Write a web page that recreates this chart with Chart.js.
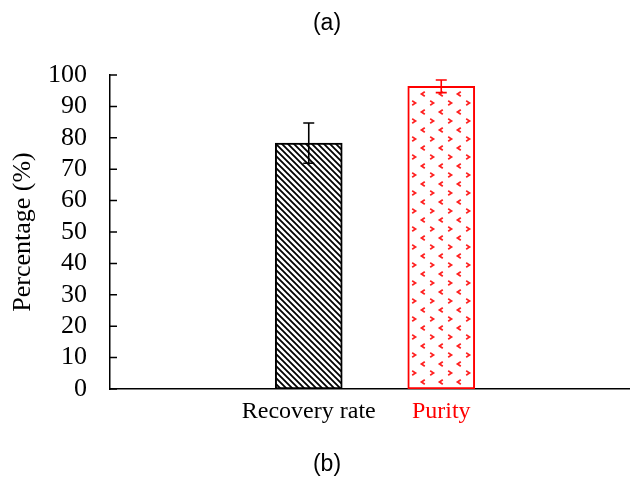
<!DOCTYPE html>
<html>
<head>
<meta charset="utf-8">
<script src="https://cdn.jsdelivr.net/npm/chart.js@4.4.0/dist/chart.umd.min.js"></script>
<style>
  html, body { margin: 0; padding: 0; background: #fff; overflow: hidden; width: 630px; height: 480px; }
  canvas { display: block; }
</style>
</head>
<body>
<!-- the plot runs a little past the right edge of the window, as in the original -->
<canvas id="chart" width="640" height="480"></canvas>
<script>
// data (empty slots left and right of the two bars)
const categories = ['', 'Recovery rate', 'Purity', ''];
const values = [null, 78.3, 96.4, null];
const errors = [0, 6.4, 2.0, 0];
const labelColors = ['#000', '#000', '#ff0000', '#000'];
const yTicks = [0, 10, 20, 30, 40, 50, 60, 70, 80, 90, 100];

// diagonal hatch for the black bar
function hatchPattern() {
  const c = document.createElement('canvas');
  c.width = 6; c.height = 6;
  const g = c.getContext('2d');
  g.fillStyle = '#fff';
  g.fillRect(0, 0, 6, 6);
  g.strokeStyle = '#000';
  g.lineWidth = 1.8;
  g.beginPath();
  g.moveTo(-1, -1); g.lineTo(7, 7);
  g.moveTo(-1, 5); g.lineTo(1, 7);
  g.moveTo(5, -1); g.lineTo(7, 1);
  g.stroke();
  return g.createPattern(c, 'repeat');
}

// small red chevrons for the purity bar
function chevronPattern() {
  const c = document.createElement('canvas');
  c.width = 18; c.height = 18;
  const g = c.getContext('2d');
  g.fillStyle = '#fff';
  g.fillRect(0, 0, 18, 18);
  g.strokeStyle = '#ff2020';
  g.lineWidth = 1.8;
  const chev = (x, y, dir) => {
    g.beginPath();
    g.moveTo(x + 1.8 * dir, y - 2.2);
    g.lineTo(x - 1.5 * dir, y);
    g.lineTo(x + 1.8 * dir, y + 2.2);
    g.stroke();
  };
  chev(9, 4, 1);
  chev(0, 13, -1);
  chev(18, 13, -1);
  return g.createPattern(c, 'repeat');
}

const fills = ['rgba(0,0,0,0)', hatchPattern(), chevronPattern(), 'rgba(0,0,0,0)'];
const borders = ['#000', '#000', '#ff0000', '#000'];

const errorBars = {
  id: 'errorBars',
  afterDatasetsDraw(chart) {
    const ctx = chart.ctx;
    const y = chart.scales.y;
    const meta = chart.getDatasetMeta(0);
    ctx.save();
    meta.data.forEach((bar, i) => {
      if (values[i] == null || !errors[i]) return;
      const top = y.getPixelForValue(values[i] + errors[i]);
      const bot = y.getPixelForValue(values[i] - errors[i]);
      ctx.strokeStyle = borders[i];
      ctx.lineWidth = 1.6;
      ctx.beginPath();
      ctx.moveTo(bar.x, top); ctx.lineTo(bar.x, bot);
      ctx.moveTo(bar.x - 5.5, top); ctx.lineTo(bar.x + 5.5, top);
      ctx.moveTo(bar.x - 5.5, bot); ctx.lineTo(bar.x + 5.5, bot);
      ctx.stroke();
    });
    ctx.restore();
  }
};

// inward tick marks on the y axis, plus the (a) / (b) captions
const extras = {
  id: 'extras',
  afterDraw(chart) {
    const ctx = chart.ctx;
    const y = chart.scales.y;
    const left = chart.chartArea.left;
    ctx.save();
    ctx.strokeStyle = '#000';
    ctx.lineWidth = 1.5;
    ctx.beginPath();
    yTicks.forEach(v => {
      const py = y.getPixelForValue(v);
      ctx.moveTo(left, py); ctx.lineTo(left + 7, py);
    });
    ctx.stroke();
    ctx.fillStyle = '#000';
    ctx.font = '23px "Liberation Sans", Arial, sans-serif';
    ctx.textAlign = 'center';
    ctx.textBaseline = 'middle';
    ctx.fillText('(a)', 327, 24);
    ctx.fillText('(b)', 327, 465);
    ctx.restore();
  }
};

new Chart(document.getElementById('chart'), {
  type: 'bar',
  data: {
    labels: categories,
    datasets: [{
      data: values,
      backgroundColor: fills,
      borderColor: borders,
      borderWidth: 2,
      borderSkipped: false,
      barThickness: 67
    }]
  },
  options: {
    responsive: false,
    animation: false,
    layout: { padding: { top: 75, left: 0, right: 0, bottom: 0 } },
    plugins: {
      legend: { display: false },
      tooltip: { enabled: false }
    },
    scales: {
      x: {
        grid: { display: false, drawTicks: false },
        border: { color: '#000', width: 1.5 },
        ticks: {
          padding: 8,
          maxRotation: 0,
          autoSkip: false,
          font: { family: '"Liberation Serif", "Times New Roman", serif', size: 24 },
          color: (c) => labelColors[c.index]
        },
        afterFit(scale) { scale.height = 91; }
      },
      y: {
        min: 0,
        max: 100,
        grid: { display: false, drawTicks: false },
        border: { color: '#000', width: 1.5 },
        ticks: {
          stepSize: 10,
          autoSkip: false,
          padding: 23,
          font: { family: '"Liberation Serif", "Times New Roman", serif', size: 26 },
          color: '#000'
        },
        title: {
          display: true,
          text: 'Percentage (%)',
          color: '#000',
          padding: { top: 8, bottom: 0 },
          font: { family: '"Liberation Serif", "Times New Roman", serif', size: 26 }
        },
        afterFit(scale) { scale.width = 110; }
      }
    }
  },
  plugins: [errorBars, extras]
});
</script>
</body>
</html>
